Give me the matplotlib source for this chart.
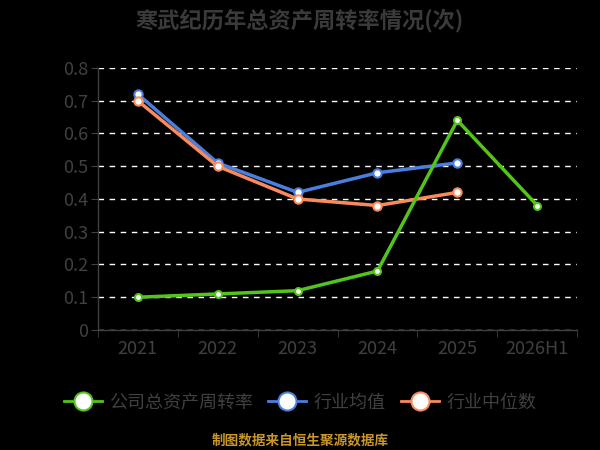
import numpy as np
import matplotlib
matplotlib.use('Agg')
import matplotlib.pyplot as plt
from matplotlib.lines import Line2D

plt.rcParams['font.family'] = ['Noto Sans CJK SC', 'DejaVu Sans']

years = ['2021', '2022', '2023', '2024', '2025', '2026H1']
company = [0.10, 0.11, 0.12, 0.18, 0.64, 0.38]
ind_mean = [0.72, 0.51, 0.42, 0.48, 0.51]
ind_median = [0.70, 0.50, 0.40, 0.38, 0.42]
names = ['公司总资产周转率', '行业均值', '行业中位数']

GREEN = '#52c41a'
BLUE = '#4a7fe0'
ORANGE = '#f98a5b'
TXT = '#404040'

fig = plt.figure(figsize=(6, 4.5), dpi=100, facecolor='black')
ax = fig.add_axes([0.163, 0.2667, 0.799, 0.5823], facecolor='black')

x = np.arange(len(years))
ax.plot(x[:len(ind_mean)], ind_mean, color=BLUE, lw=2.5, marker='o', ms=6,
        mfc='white', mec=BLUE, mew=1.5, zorder=3)
ax.plot(x[:len(ind_median)], ind_median, color=ORANGE, lw=2.5, marker='o', ms=6,
        mfc='white', mec=ORANGE, mew=1.5, zorder=3)
ax.plot(x, company, color=GREEN, lw=2.5, marker='o', ms=5,
        mfc='white', mec=GREEN, mew=1.5, zorder=4)

ax.set_xlim(-0.5, len(years) - 0.5)
ax.set_ylim(0, 0.8)
ax.set_yticks(np.arange(0, 0.81, 0.1))
ax.set_yticklabels(['0'] + [f'{v:.1f}' for v in np.arange(0.1, 0.81, 0.1)])
ax.set_xticks(x)
ax.set_xticklabels(years)
ax.set_xticks(np.arange(-0.5, len(years)), minor=True)
ax.tick_params(axis='x', which='major', length=0, pad=7, labelsize=13, colors=TXT)
ax.tick_params(axis='x', which='minor', length=5, color=TXT)
ax.tick_params(axis='y', length=5, color=TXT, labelsize=13, labelcolor=TXT, pad=2)

ax.yaxis.grid(True, color='white', ls=(0, (4, 4)), lw=1, zorder=1)
for s in ['top', 'right']:
    ax.spines[s].set_visible(False)
for s in ['left', 'bottom']:
    ax.spines[s].set_color(TXT)
    ax.spines[s].set_linewidth(1)

handles = [Line2D([], [], color=c, lw=2, marker='o', ms=13, mfc='white', mec=c, mew=1.5)
           for c in [GREEN, BLUE, ORANGE]]
fig.legend(handles, names, loc='center', bbox_to_anchor=(0.5, 0.105), ncol=3,
           frameon=False, fontsize=13, labelcolor=TXT, handlelength=2.1,
           columnspacing=0.83, handletextpad=0.42)

fig.text(0.5, 0.955, '寒武纪历年总资产周转率情况(次)', ha='center', va='center',
         fontsize=16, fontweight='bold', color='#3a3a3a')
fig.text(0.5, 0.022, '制图数据来自恒生聚源数据库', ha='center', va='center',
         fontsize=9.8, fontweight='bold', color='#c9962a')

fig.savefig('out.png', dpi=100, facecolor='black')
